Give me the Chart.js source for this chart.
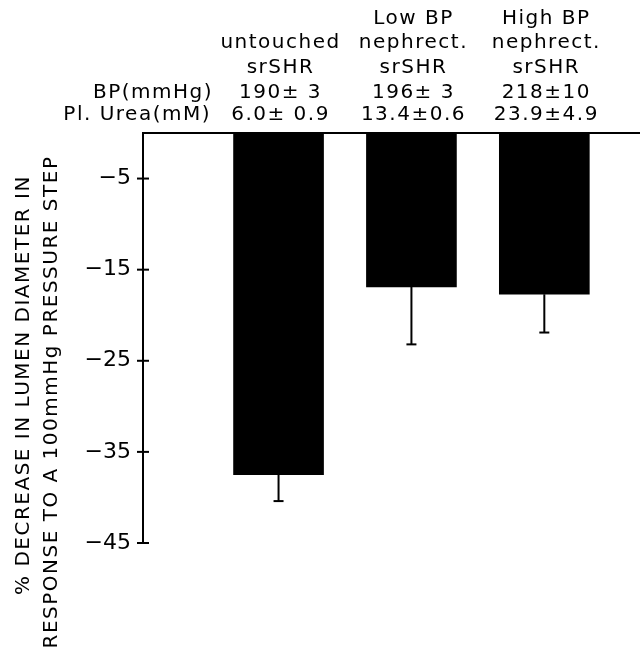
<!DOCTYPE html>
<html>
<head>
<meta charset="utf-8">
<script src="https://cdn.jsdelivr.net/npm/chart.js@4.4.0/dist/chart.umd.min.js"></script>
<style>
    html, body { margin: 0; padding: 0; background: #fff; }
    canvas { display: block; }
</style>
</head>
<body>
<canvas id="lumen-chart" width="640" height="650"></canvas>
<script>
// Group headings (three lines per column) and the two data rows above the bars
const groupHeadings = [
    ['', 'untouched', 'srSHR'],
    ['Low BP', 'nephrect.', 'srSHR'],
    ['High BP', 'nephrect.', 'srSHR']
];
const rowLabels = ['BP(mmHg)', 'Pl. Urea(mM)'];
const bpValues = ['190\u00b1 3', '196\u00b1 3', '218\u00b110'];
const ureaValues = ['6.0\u00b1 0.9', '13.4\u00b10.6', '23.9\u00b14.9'];

// % change in lumen diameter, mean and SEM
const meanChange = [-37.5, -16.9, -17.7];
const semChange = [2.9, 6.3, 4.2];

const yTicks = [-5, -15, -25, -35, -45];
const yTitle = ['% DECREASE IN LUMEN DIAMETER IN', 'RESPONSE TO A 100mmHg PRESSURE STEP'];

const FONT = '"DejaVu Sans", sans-serif';

function line(ctx, x1, y1, x2, y2) {
    ctx.beginPath();
    ctx.moveTo(x1, y1);
    ctx.lineTo(x2, y2);
    ctx.stroke();
}

// Draws error bars, crossing tick marks, the top line and all the text around the plot
const overlay = {
    id: 'overlay',
    afterDatasetsDraw(chart) {
        const { ctx, chartArea, scales: { x, y } } = chart;
        ctx.save();
        ctx.strokeStyle = '#000';
        ctx.lineWidth = 2;

        // error bars (downward only)
        meanChange.forEach((m, i) => {
            const px = x.getPixelForValue(i);
            const y0 = y.getPixelForValue(m);
            const y1 = y.getPixelForValue(m - semChange[i]);
            line(ctx, px, y0, px, y1);
            line(ctx, px - 5, y1, px + 5, y1);
        });

        // zero line across the top
        const zeroY = y.getPixelForValue(0);
        line(ctx, chartArea.left, zeroY, chart.width, zeroY);

        // tick marks crossing the axis
        yTicks.forEach(t => {
            const py = y.getPixelForValue(t);
            line(ctx, chartArea.left - 6, py, chartArea.left + 6, py);
        });

        // header text
        ctx.fillStyle = '#000';
        ctx.font = '20px ' + FONT;
        ctx.textBaseline = 'middle';
        if ('letterSpacing' in ctx) ctx.letterSpacing = '1.5px';
        const headRows = [19, 43, 68];
        ctx.textAlign = 'center';
        groupHeadings.forEach((lines, i) => {
            const px = x.getPixelForValue(i) + 2;
            lines.forEach((txt, r) => ctx.fillText(txt, px, headRows[r]));
            ctx.fillText(bpValues[i], px, 93);
            ctx.fillText(ureaValues[i], px, 115);
        });
        ctx.textAlign = 'right';
        ctx.fillText(rowLabels[0], 213, 93);
        ctx.fillText(rowLabels[1], 211, 115);

        // y axis title, two rotated lines
        ctx.textAlign = 'center';
        const titlePos = [[24, 385], [52, 402]];
        yTitle.forEach((txt, k) => {
            ctx.save();
            ctx.translate(titlePos[k][0], titlePos[k][1]);
            ctx.rotate(-Math.PI / 2);
            ctx.fillText(txt, 0, 0);
            ctx.restore();
        });
        ctx.restore();
    }
};

new Chart(document.getElementById('lumen-chart').getContext('2d'), {
    type: 'bar',
    data: {
        datasets: [{
            data: meanChange.map((v, i) => ({ x: i, y: v })),
            backgroundColor: '#000',
            borderWidth: 0,
            barThickness: 90
        }]
    },
    options: {
        responsive: false,
        animation: false,
        layout: { padding: { top: 133, bottom: 107, left: 0, right: 0 } },
        plugins: {
            legend: { display: false },
            tooltip: { enabled: false }
        },
        scales: {
            x: {
                type: 'linear',
                min: -1.02,
                max: 2.72,
                offset: false,
                display: false
            },
            y: {
                min: -45,
                max: 0,
                afterBuildTicks: scale => {
                    scale.ticks = yTicks.map(v => ({ value: v }));
                },
                afterFit: scale => {
                    scale.width = 143;
                },
                grid: { display: false, drawTicks: false },
                border: { display: true, color: '#000', width: 2 },
                ticks: {
                    padding: 12,
                    color: '#000',
                    font: { family: FONT, size: 22 },
                    callback: v => '\u2212' + Math.abs(v)
                }
            }
        }
    },
    plugins: [overlay]
});
</script>
</body>
</html>
